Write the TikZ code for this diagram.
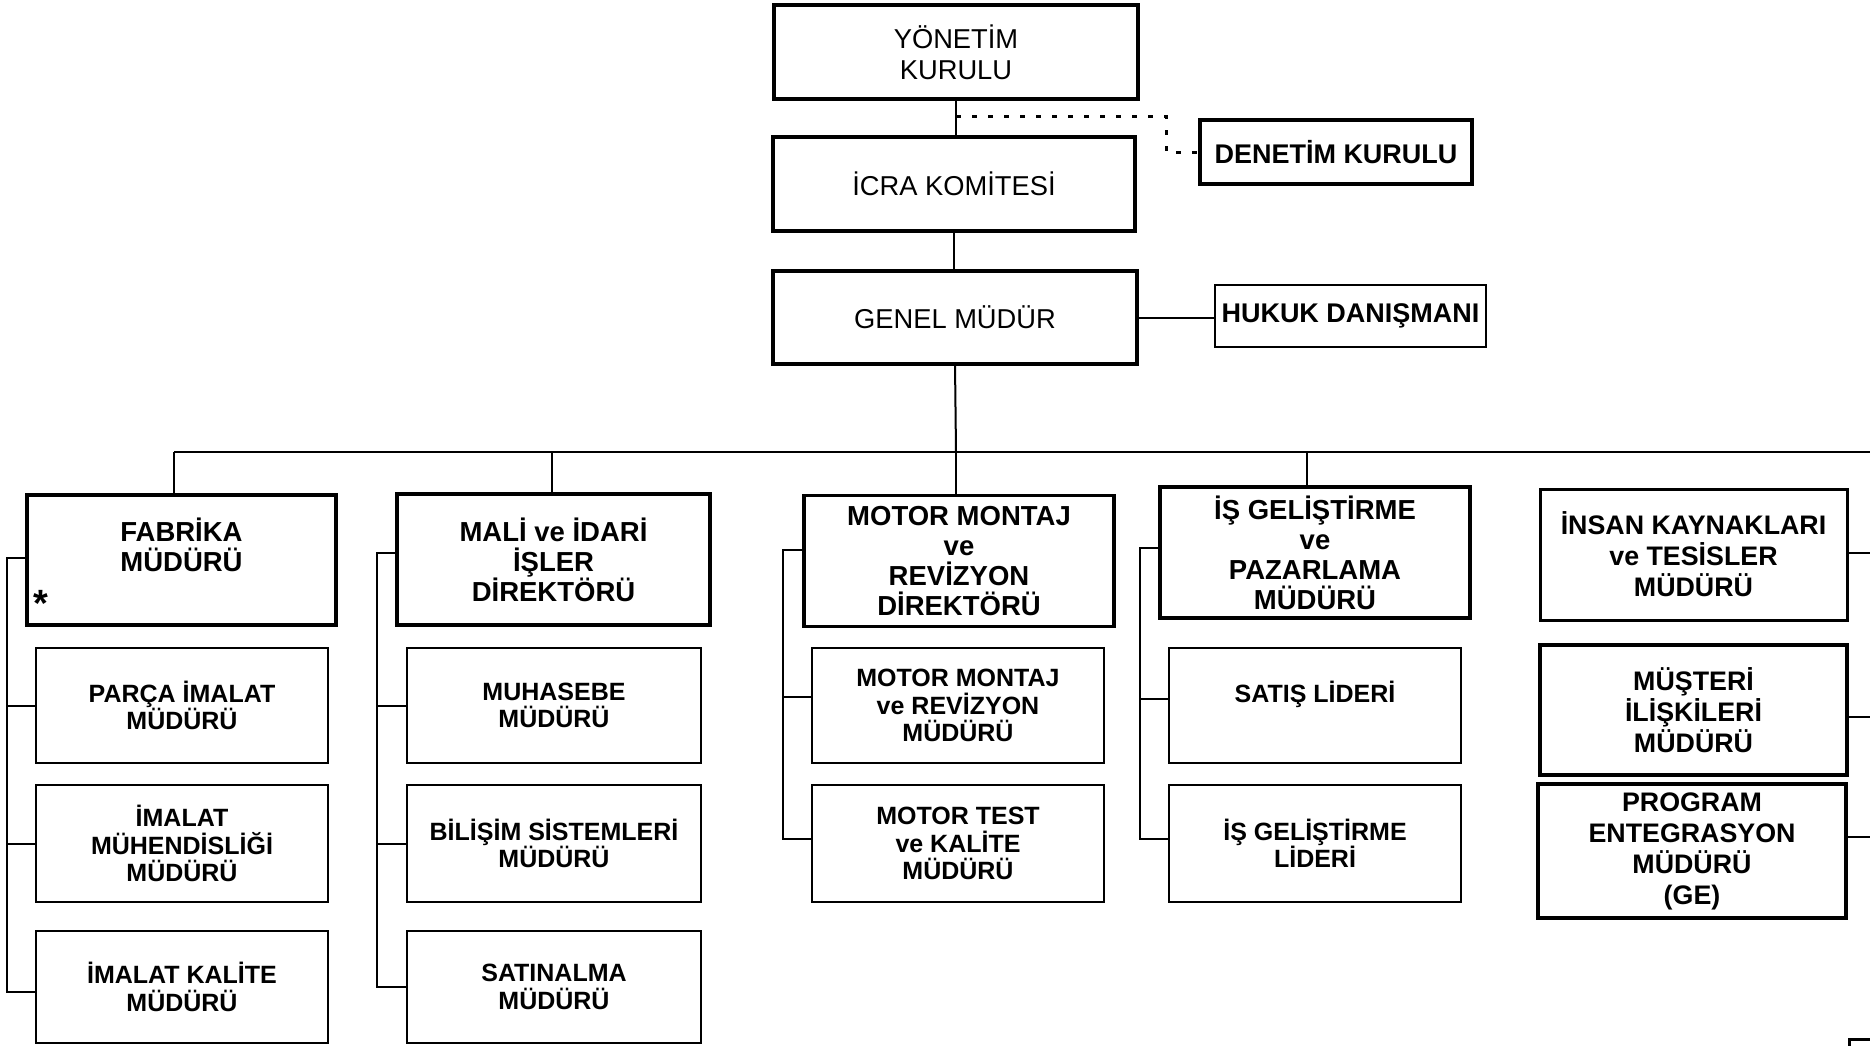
\documentclass[tikz,border=0pt]{standalone}
\usepackage{fontspec}
\setmainfont{Liberation Sans}
\usetikzlibrary{calc}
\begin{document}
\begin{tikzpicture}[x=1pt,y=-1pt,
  box/.style={draw, inner sep=0pt, outer sep=0pt, align=center},
  topbox/.style={box, line width=3.5pt, font=\fontsize{27.3}{31}\selectfont},
  sidebox/.style={box, font=\bfseries\fontsize{27}{31}\selectfont},
  headbox/.style={box, line width=3.5pt, minimum width=310pt, minimum height=131pt, font=\bfseries\fontsize{27.5}{30}\selectfont},
  subbox/.style={box, line width=2.5pt, minimum width=293pt, font=\bfseries\fontsize{25}{27.5}\selectfont},
  rbox/.style={box, line width=3.5pt, minimum width=307pt, font=\bfseries\fontsize{26.8}{31}\selectfont},
  conn/.style={line width=2pt},
  dotline/.style={line width=3pt, dash pattern=on 5pt off 11pt}
]
\useasboundingbox (0,0) rectangle (1870,1045);

% top
\node[topbox, minimum width=364pt, minimum height=94pt] (yk) at (956,52) {YÖNETİM\\KURULU};
\node[topbox, minimum width=362pt, minimum height=94pt] (icra) at (954,184) {İCRA KOMİTESİ};
\node[topbox, minimum width=364pt, minimum height=93pt] (gm) at (955,317.5) {GENEL MÜDÜR};
\node[sidebox, line width=3.5pt, minimum width=272pt, minimum height=64pt] (den) at (1336,152) {DENETİM KURULU};
\node[sidebox, line width=2pt, minimum width=271pt, minimum height=62pt] (huk) at (1350.5,316) {HUKUK DANIŞMANI};

\draw[conn] (yk.south) -- (yk.south |- icra.north);
\draw[conn] (icra.south) -- (icra.south |- gm.north);
\coordinate (d0) at (956,116);
\coordinate (d1) at (1166,116);
\draw[dotline] (d0) -- (d1) -- (d1 |- den.west) -- (den.west);
\draw[conn] (gm.east) -- (gm.east -| huk.west);

% bus
\coordinate (bus) at (956,452);
\coordinate (busL) at (174,452);
\coordinate (busR) at (1872,452);
\coordinate (b2) at (552,452);
\coordinate (b4) at (1307,452);
\draw[conn] (gm.south) -- (bus);
\draw[conn] (busL) -- (busR);

% head boxes
\node[headbox, minimum width=309pt, minimum height=130pt] (fab) at (181.5,560) {FABRİKA\\MÜDÜRÜ\\~};
\node[headbox, minimum width=313pt] (mali) at (553.5,559.5) {MALİ ve İDARİ\\İŞLER\\DİREKTÖRÜ};
\node[headbox] (mot) at (959,561) {MOTOR MONTAJ\\ve\\REVİZYON\\DİREKTÖRÜ};
\node[headbox] (isg) at (1315,552.5) {İŞ GELİŞTİRME\\ve\\PAZARLAMA\\MÜDÜRÜ};
\node[rbox, line width=3pt, minimum height=131pt] (ik) at (1693.5,554.5) {İNSAN KAYNAKLARI\\ve TESİSLER\\MÜDÜRÜ};
\node[font=\bfseries\fontsize{38}{40}\selectfont, inner sep=0pt] (star) at (41,603) {*};

\draw[conn] (busL) -- (busL |- fab.north);
\draw[conn] (b2) -- (b2 |- mali.north);
\draw[conn] (bus) -- (bus |- mot.north);
\draw[conn] (b4) -- (b4 |- isg.north);

% column 1
\node[subbox, minimum width=292pt, minimum height=115pt] (s11) at (182,705.5) {PARÇA İMALAT\\MÜDÜRÜ};
\node[subbox, minimum width=292pt, minimum height=117pt] (s12) at (182,843.5) {İMALAT\\MÜHENDİSLİĞİ\\MÜDÜRÜ};
\node[subbox, minimum width=292pt, minimum height=112pt] (s13) at (182,987) {İMALAT KALİTE\\MÜDÜRÜ};
% column 2
\node[subbox, minimum width=294pt, minimum height=115pt] (s21) at (554,705.5) {MUHASEBE\\MÜDÜRÜ};
\node[subbox, minimum width=294pt, minimum height=117pt] (s22) at (554,843.5) {BİLİŞİM SİSTEMLERİ\\MÜDÜRÜ};
\node[subbox, minimum width=294pt, minimum height=112pt] (s23) at (554,987) {SATINALMA\\MÜDÜRÜ};
% column 3
\node[subbox, minimum width=292pt, minimum height=115pt] (s31) at (958,705.5) {MOTOR MONTAJ\\ve REVİZYON\\MÜDÜRÜ};
\node[subbox, minimum width=292pt, minimum height=117pt] (s32) at (958,843.5) {MOTOR TEST\\ve KALİTE\\MÜDÜRÜ};
% column 4
\node[subbox, minimum width=292pt, minimum height=115pt] (s41) at (1315,705.5) {SATIŞ LİDERİ\\~};
\node[subbox, minimum width=292pt, minimum height=117pt] (s42) at (1315,843.5) {İŞ GELİŞTİRME\\LİDERİ};
% column 5
\node[rbox, minimum height=130pt] (ik2) at (1693.5,710) {MÜŞTERİ\\İLİŞKİLERİ\\MÜDÜRÜ};
\node[rbox, minimum width=308pt, minimum height=134pt] (ik3) at (1692,851) {PROGRAM\\ENTEGRASYON\\MÜDÜRÜ\\(GE)};

% spines
\coordinate (sp1) at (7,0);
\coordinate (sp2) at (377,0);
\coordinate (sp3) at (783,0);
\coordinate (sp4) at (1140,0);
\coordinate (rE) at (1872,0);

\draw[conn] ($(fab.west)+(0,-2)$) -- ($(fab.west -| sp1)+(0,-2)$) |- ($(s13.west)+(0,5)$);
\draw[conn] (s11.west) -- (s11.west -| sp1);
\draw[conn] (s12.west) -- (s12.west -| sp1);

\draw[conn] ($(mali.west)+(0,-7)$) -- ($(mali.west -| sp2)+(0,-7)$) |- (s23.west);
\draw[conn] (s21.west) -- (s21.west -| sp2);
\draw[conn] (s22.west) -- (s22.west -| sp2);

\draw[conn] ($(mot.west)+(0,-11)$) -- ($(mot.west -| sp3)+(0,-11)$) |- ($(s32.west)+(0,-5)$);
\draw[conn] ($(s31.west)+(0,-9)$) -- ($(s31.west -| sp3)+(0,-9)$);

\draw[conn] ($(isg.west)+(0,-5)$) -- ($(isg.west -| sp4)+(0,-5)$) |- ($(s42.west)+(0,-5)$);
\draw[conn] ($(s41.west)+(0,-7)$) -- ($(s41.west -| sp4)+(0,-7)$);

\draw[conn] ($(ik.east)+(0,-2)$) -- ($(ik.east -| rE)+(0,-2)$);
\draw[conn] ($(ik2.east)+(0,7)$) -- ($(ik2.east -| rE)+(0,7)$);
\draw[conn] ($(ik3.east)+(0,-14)$) -- ($(ik3.east -| rE)+(0,-14)$);

% fragment at bottom right
\draw[line width=3pt] (1849,1047) -- (1849,1039.5) -- (1872,1039.5);
\end{tikzpicture}
\end{document}
